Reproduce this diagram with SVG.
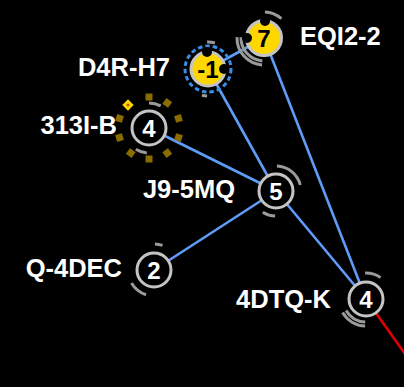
<svg xmlns="http://www.w3.org/2000/svg" width="404" height="387" viewBox="0 0 404 387">
<defs>
<style>
.edge{stroke:#5e9cf8;stroke-width:2.6;fill:none}
.red{stroke:#e00000;stroke-width:2.6;fill:none}
.ring{fill:#000;stroke:#c4c4c4;stroke-width:3}
.gold{fill:#ffd700;stroke:#c4c4c4;stroke-width:3}
.arc{fill:none;stroke:#9a9a9a;stroke-width:3}
.lbl{font-family:"Liberation Sans",Arial,sans-serif;font-weight:bold;font-size:25.5px;fill:#fff}
.num{font-family:"Liberation Sans",Arial,sans-serif;font-weight:bold;font-size:24px;fill:#fff;text-anchor:middle}
.dot{fill:#000}
.sq{fill:#8a6d00}
</style>
<rect id="sq" x="-3.5" y="-3.5" width="7" height="7"/>
</defs>
<rect width="404" height="387" fill="#000"/>
<g id="connectors">
<line class="edge" x1="208" y1="69" x2="264" y2="38"/>
<line class="edge" x1="208" y1="69" x2="276" y2="191"/>
<line class="edge" x1="264" y1="38" x2="366" y2="299"/>
<line class="edge" x1="149" y1="128" x2="276" y2="191"/>
<line class="edge" x1="154" y1="270" x2="276" y2="191"/>
<line class="edge" x1="276" y1="191" x2="366" y2="299"/>
<line class="red" x1="366" y1="299" x2="410" y2="361"/>
</g>
<g id="node-EQI2-2">
<path class="arc" d="M264.9 12 A26 26 0 0 1 281.4 18.7"/>
<path class="arc" d="M262.4 60.9 A23 23 0 0 1 241 37.2"/>
<path class="arc" d="M262.1 64.9 A27 27 0 0 1 237 37.1"/>
<circle class="gold" cx="264" cy="38" r="17.5"/>
<text class="num" x="264" y="47" style="fill:#000">7</text>
<circle class="dot" cx="265" cy="21" r="5"/>
<circle class="dot" cx="247" cy="38" r="5"/>
<text class="lbl" x="300" y="45">EQI2-2</text>
</g>
<g id="node-D4R-H7">
<path class="arc" d="M207.1 42 A27 27 0 0 1 215 42.9"/>
<path class="arc" d="M207.1 96 A27 27 0 0 1 201.9 95.3"/>
<circle class="gold" cx="208" cy="69" r="17"/>
<circle cx="208" cy="69" r="23" fill="none" stroke="#3a8ee8" stroke-width="3" stroke-dasharray="4.5 3"/>
<text class="num" x="208" y="78" style="fill:#000">-1</text>
<circle class="dot" cx="207" cy="52" r="5"/>
<circle class="dot" cx="224" cy="69" r="5"/>
<text class="lbl" x="170" y="76" text-anchor="end">D4R-H7</text>
</g>
<g id="node-313I-B">
<path class="arc" d="M149 103 A25 25 0 0 1 160.7 105.9"/>
<path class="arc" d="M146.8 152.9 A25 25 0 0 1 135.8 149.2"/>
<g class="sq">
<use href="#sq" transform="translate(149 128) rotate(-90) translate(31 0)"/>
<use href="#sq" transform="translate(149 128) rotate(-54) translate(31 0)"/>
<use href="#sq" transform="translate(149 128) rotate(-18) translate(31 0)"/>
<use href="#sq" transform="translate(149 128) rotate(18) translate(31 0)"/>
<use href="#sq" transform="translate(149 128) rotate(54) translate(31 0)"/>
<use href="#sq" transform="translate(149 128) rotate(90) translate(31 0)"/>
<use href="#sq" transform="translate(149 128) rotate(126) translate(31 0)"/>
<use href="#sq" transform="translate(149 128) rotate(162) translate(31 0)"/>
<use href="#sq" transform="translate(149 128) rotate(198) translate(31 0)"/>
</g>
<rect x="124" y="101" width="8" height="8" fill="#ffd700" transform="rotate(45 128 105)"/>
<circle cx="128" cy="105" r="1.6" fill="#b06000"/>
<circle class="ring" cx="149" cy="128" r="17"/>
<text class="num" x="149" y="137">4</text>
<text class="lbl" x="117" y="134" text-anchor="end">313I-B</text>
</g>
<g id="node-J9-5MQ">
<path class="arc" d="M276.9 166 A25 25 0 0 1 300.3 185"/>
<path class="arc" d="M275.1 216 A25 25 0 0 1 262.8 212.2"/>
<circle class="ring" cx="276" cy="191" r="17"/>
<text class="num" x="276" y="200">5</text>
<text class="lbl" x="235" y="198" text-anchor="end">J9-5MQ</text>
</g>
<g id="node-Q-4DEC">
<path class="arc" d="M154.9 244 A26 26 0 0 1 162.5 245.4"/>
<path class="arc" d="M146 294.7 A26 26 0 0 1 131.5 283"/>
<circle class="ring" cx="154" cy="270" r="17"/>
<text class="num" x="154" y="279">2</text>
<text class="lbl" x="122" y="277" text-anchor="end">Q-4DEC</text>
</g>
<g id="node-4DTQ-K">
<path class="arc" d="M365.1 273 A26 26 0 0 1 380.5 277.4"/>
<path class="arc" d="M365.2 322 A23 23 0 0 1 346.1 310.5"/>
<path class="arc" d="M365.1 326 A27 27 0 0 1 342.6 312.5"/>
<circle class="ring" cx="366" cy="299" r="17"/>
<text class="num" x="366" y="308">4</text>
<text class="lbl" x="331" y="308" text-anchor="end">4DTQ-K</text>
</g>
</svg>
